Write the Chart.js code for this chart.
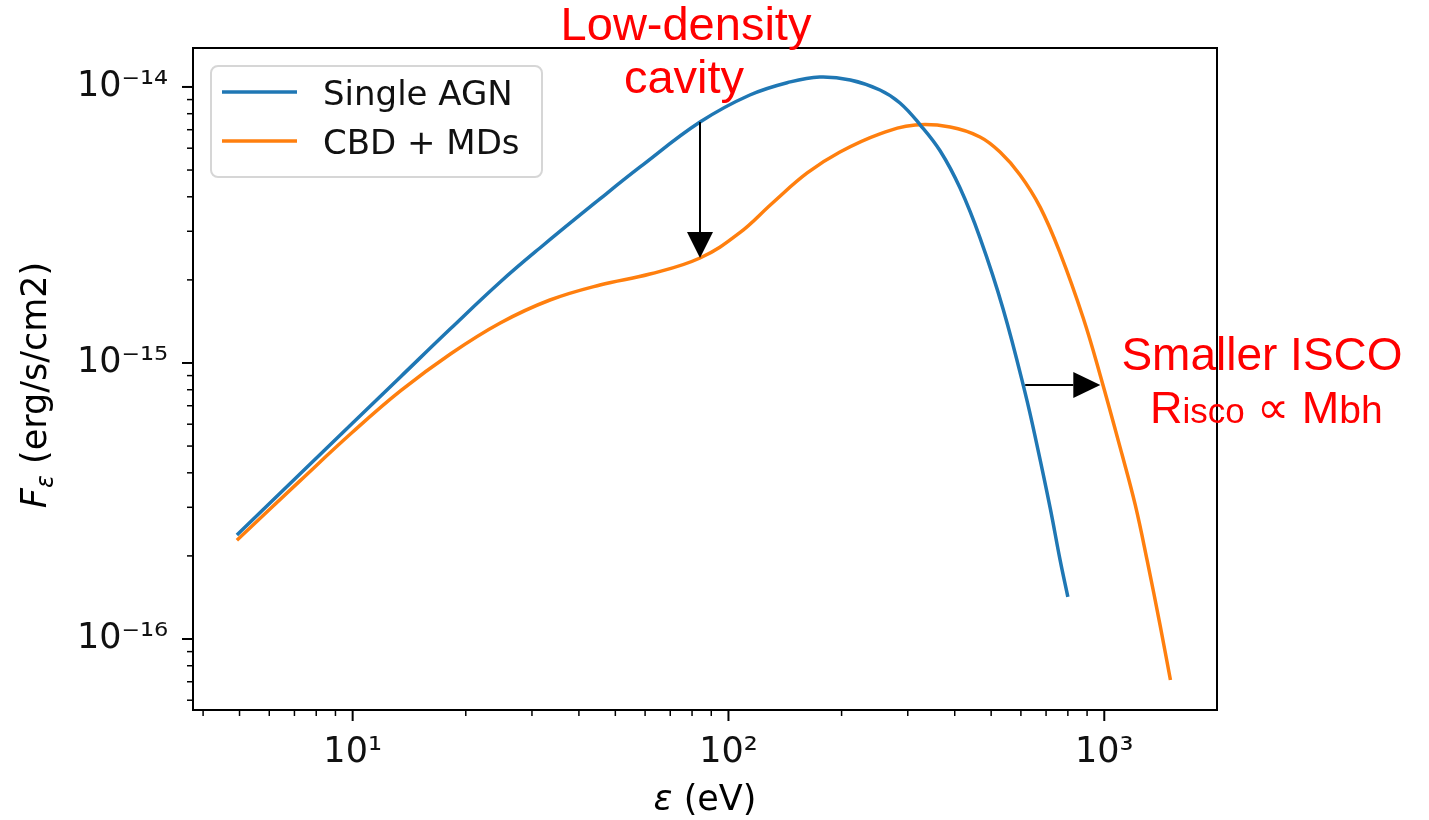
<!DOCTYPE html>
<html>
<head>
<meta charset="utf-8">
<script src="https://cdn.jsdelivr.net/npm/chart.js@4.4.1/dist/chart.umd.min.js"></script>
<style>
    html, body { margin: 0; padding: 0; background: #fff; }
    #wrap { width: 1429px; height: 820px; }
</style>
</head>
<body>
<div id="wrap"><canvas id="sedChart" width="1429" height="820"></canvas></div>
<script>
// photon energy (eV) and flux F_eps (erg/s/cm2)
const agnEnergy = [4.92, 7.24, 10, 13.4, 18.2, 24.7, 31.5, 45.5, 58.2, 84, 114, 146, 175, 211, 253, 286,
    324, 366, 413, 467, 538, 616, 663, 718, 763, 800];
const agnFlux = [2.38e-16, 3.96e-16, 6.06e-16, 8.9e-16, 1.33e-15, 1.965e-15, 2.61e-15, 3.93e-15, 5.13e-15, 7.46e-15,
    9.35e-15, 1.043e-14, 1.087e-14, 1.06e-14, 9.75e-15, 8.75e-15, 7.28e-15, 5.86e-15, 4.31e-15, 2.84e-15,
    1.57e-15, 7.78e-16, 5.0e-16, 2.98e-16, 1.93e-16, 1.42e-16];

const cbdEnergy = [4.92, 7.24, 10, 13.4, 18.2, 24.7, 33.5, 45.5, 61.8, 84, 107, 131, 162, 198, 253, 314,
    389, 467, 528, 597, 675, 763, 879, 975, 1116, 1209, 1300, 1408, 1500];
const cbdFlux = [2.28e-16, 3.74e-16, 5.62e-16, 7.92e-16, 1.078e-15, 1.396e-15, 1.691e-15, 1.917e-15, 2.1e-15, 2.4e-15,
    2.96e-15, 3.8e-15, 4.88e-15, 5.81e-15, 6.76e-15, 7.28e-15, 7.16e-15, 6.59e-15, 5.81e-15, 4.8e-15,
    3.67e-15, 2.5e-15, 1.455e-15, 9.05e-16, 4.64e-16, 3.06e-16, 1.93e-16, 1.12e-16, 7.1e-17];

const seriesLabels = ['Single AGN', 'CBD + MDs'];
const seriesColors = ['#1f77b4', '#ff7f0e'];

const xTickValues = [10, 100, 1000];
const yTickValues = [1e-16, 1e-15, 1e-14];

const SUP = { '-': '\u207B', '0': '\u2070', '1': '\u00B9', '2': '\u00B2', '3': '\u00B3',
    '4': '\u2074', '5': '\u2075', '6': '\u2076', '7': '\u2077', '8': '\u2078', '9': '\u2079' };

function powerLabel(value, majors) {
    if (!majors.includes(value)) return '';
    const exp = String(Math.round(Math.log10(value)));
    return '10' + exp.split('').map(c => SUP[c]).join('');
}

// majors from the list, minors at 2..9 times each decade
function buildTicks(majors, min, max) {
    const decades = [majors[0] / 10, ...majors];
    const out = [];
    decades.forEach(d => {
        for (let m = 1; m <= 9; m++) {
            const v = m === 1 ? d : m * d;
            if (v >= min && v <= max) out.push({ value: v });
        }
    });
    return out;
}

function drawArrow(ctx, x0, y0, x1, y1, headLen, headWidth) {
    const ang = Math.atan2(y1 - y0, x1 - x0);
    const bx = x1 - headLen * Math.cos(ang);
    const by = y1 - headLen * Math.sin(ang);
    ctx.beginPath();
    ctx.moveTo(x0, y0);
    ctx.lineTo(bx, by);
    ctx.stroke();
    const nx = -Math.sin(ang) * headWidth / 2;
    const ny = Math.cos(ang) * headWidth / 2;
    ctx.beginPath();
    ctx.moveTo(x1, y1);
    ctx.lineTo(bx + nx, by + ny);
    ctx.lineTo(bx - nx, by - ny);
    ctx.closePath();
    ctx.fill();
}

function drawRuns(ctx, runs, x, y) {
    runs.forEach(r => {
        ctx.font = r.font;
        ctx.fillText(r.text, x, y + (r.dy || 0));
        x += ctx.measureText(r.text).width;
    });
}

function runsWidth(ctx, runs) {
    return runs.reduce((w, r) => { ctx.font = r.font; return w + ctx.measureText(r.text).width; }, 0);
}

const sedDecor = {
    id: 'sedDecor',
    afterDraw(chart) {
        const { ctx, chartArea: area, scales: { x, y } } = chart;
        ctx.save();

        // frame
        ctx.strokeStyle = '#000';
        ctx.lineWidth = 2;
        ctx.strokeRect(area.left, area.top, area.right - area.left, area.bottom - area.top);

        // tick marks, outward
        x.ticks.forEach(t => {
            const px = x.getPixelForValue(t.value);
            const major = xTickValues.includes(t.value);
            ctx.lineWidth = major ? 2 : 1.5;
            ctx.beginPath();
            ctx.moveTo(px, area.bottom);
            ctx.lineTo(px, area.bottom + (major ? 11 : 6));
            ctx.stroke();
        });
        y.ticks.forEach(t => {
            const py = y.getPixelForValue(t.value);
            const major = yTickValues.includes(t.value);
            ctx.lineWidth = major ? 2 : 1.5;
            ctx.beginPath();
            ctx.moveTo(area.left, py);
            ctx.lineTo(area.left - (major ? 11 : 6), py);
            ctx.stroke();
        });

        // axis titles
        ctx.fillStyle = '#000';
        ctx.textBaseline = 'alphabetic';
        ctx.textAlign = 'left';
        const xTitle = [
            { text: '\u03B5', font: 'italic 35px "DejaVu Sans"' },
            { text: ' (eV)', font: '35px "DejaVu Sans"' }
        ];
        const xMid = (area.left + area.right) / 2;
        drawRuns(ctx, xTitle, xMid - runsWidth(ctx, xTitle) / 2, 810);

        const yTitle = [
            { text: 'F', font: 'italic 35px "DejaVu Sans"' },
            { text: '\u03B5', font: 'italic 24px "DejaVu Sans"', dy: 7 },
            { text: ' (erg/s/cm2)', font: '35px "DejaVu Sans"' }
        ];
        ctx.save();
        ctx.translate(46, (area.top + area.bottom) / 2 + 6);
        ctx.rotate(-Math.PI / 2);
        drawRuns(ctx, yTitle, -runsWidth(ctx, yTitle) / 2, 0);
        ctx.restore();

        // legend
        ctx.beginPath();
        ctx.roundRect(211, 66, 331, 111, 7);
        ctx.fillStyle = 'rgba(255,255,255,0.8)';
        ctx.fill();
        ctx.lineWidth = 2;
        ctx.strokeStyle = '#d6d6d6';
        ctx.stroke();
        chart.data.datasets.forEach((ds, i) => {
            const ly = 92 + i * 49;
            ctx.strokeStyle = ds.borderColor;
            ctx.lineWidth = ds.borderWidth;
            ctx.beginPath();
            ctx.moveTo(222, ly);
            ctx.lineTo(297, ly);
            ctx.stroke();
            ctx.fillStyle = '#111';
            ctx.font = '34px "DejaVu Sans"';
            ctx.fillText(ds.label, 323, ly + 13);
        });

        // annotation arrows, anchored to data
        ctx.fillStyle = '#000';
        ctx.strokeStyle = '#000';
        ctx.lineWidth = 2;
        drawArrow(ctx, x.getPixelForValue(84), y.getPixelForValue(7.46e-15),
            x.getPixelForValue(84), y.getPixelForValue(2.4e-15), 26, 26);
        drawArrow(ctx, x.getPixelForValue(616), y.getPixelForValue(8.32e-16),
            x.getPixelForValue(976), y.getPixelForValue(8.32e-16), 27, 26);

        // red notes
        ctx.fillStyle = '#ff0000';
        ctx.textAlign = 'center';
        ctx.font = '47px "Liberation Sans"';
        ctx.fillText('Low-density', 686, 40);
        ctx.fillText('cavity', 684, 93);
        ctx.font = '46px "Liberation Sans"';
        ctx.fillText('Smaller ISCO', 1262, 370);
        ctx.textAlign = 'left';
        drawRuns(ctx, [
            { text: 'R', font: '45px "Liberation Sans"' },
            { text: 'isco', font: '35px "Liberation Sans"' },
            { text: ' \u221D ', font: '45px "Liberation Sans"' },
            { text: 'M', font: '45px "Liberation Sans"' },
            { text: 'bh', font: '39px "Liberation Sans"' }
        ], 1150, 423);

        ctx.restore();
    }
};

const tickFont = { family: 'DejaVu Sans', size: 35 };

function series(i, energies, fluxes) {
    return {
        label: seriesLabels[i],
        data: energies.map((e, k) => ({ x: e, y: fluxes[k] })),
        borderColor: seriesColors[i],
        borderWidth: 3.5,
        pointRadius: 0,
        tension: 0.4,
        fill: false
    };
}

new Chart(document.getElementById('sedChart'), {
    type: 'line',
    data: {
        datasets: [
            series(0, agnEnergy, agnFlux),
            series(1, cbdEnergy, cbdFlux)
        ]
    },
    options: {
        responsive: false,
        animation: false,
        devicePixelRatio: 1,
        layout: { padding: { top: 48, right: 212, bottom: 0, left: 0 }, autoPadding: false },
        plugins: { legend: { display: false }, tooltip: { enabled: false } },
        scales: {
            x: {
                type: 'logarithmic',
                min: 3.76,
                max: 1995,
                afterFit: s => { s.height = 110; },
                afterBuildTicks: s => { s.ticks = buildTicks(xTickValues, s.min, s.max); },
                grid: { display: false, drawTicks: false },
                border: { display: false },
                ticks: {
                    autoSkip: false,
                    maxRotation: 0,
                    minRotation: 0,
                    padding: 22,
                    color: '#111',
                    font: tickFont,
                    callback: v => powerLabel(v, xTickValues)
                }
            },
            y: {
                type: 'logarithmic',
                min: 5.53e-17,
                max: 1.384e-14,
                afterFit: s => { s.width = 193; },
                afterBuildTicks: s => { s.ticks = buildTicks(yTickValues, s.min, s.max); },
                grid: { display: false, drawTicks: false },
                border: { display: false },
                ticks: {
                    autoSkip: false,
                    padding: 25,
                    color: '#111',
                    font: tickFont,
                    callback: v => powerLabel(v, yTickValues)
                }
            }
        }
    },
    plugins: [sedDecor]
});
</script>
</body>
</html>
